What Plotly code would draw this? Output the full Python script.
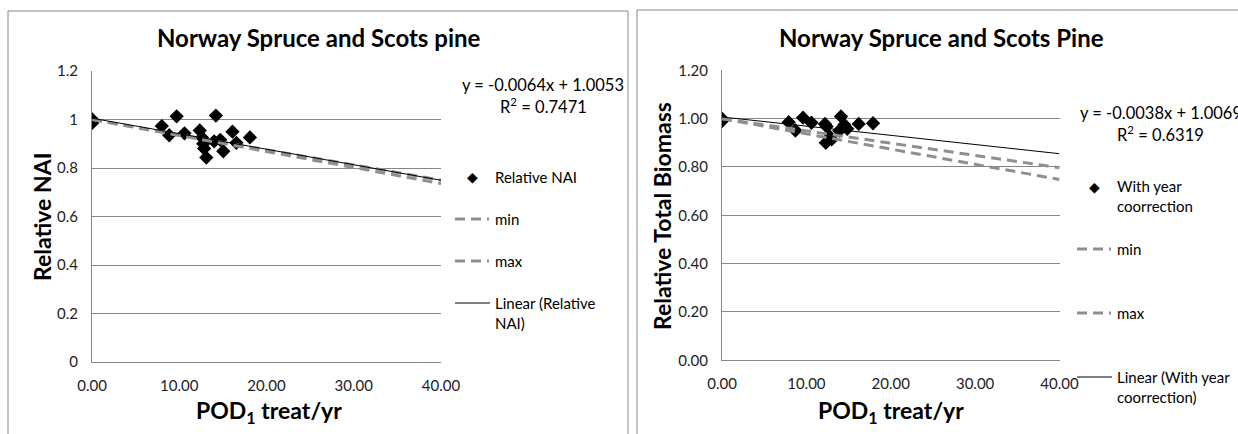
import plotly.graph_objects as go

W, H = 1238, 434

# ---------------- data ----------------
nai_x = [0, 0, 0, 0, 8.0, 9.7, 8.85, 10.6, 12.35, 12.6, 12.75, 12.85, 13.1,
         14.2, 14.0, 14.7, 15.05, 16.1, 16.55, 18.1]
nai_y = [1.0, 1.0, 0.99, 0.985, 0.973, 1.013, 0.935, 0.943, 0.955, 0.926, 0.90,
         0.88, 0.843, 1.016, 0.91, 0.916, 0.869, 0.95, 0.904, 0.926]
nai_slope, nai_intercept = -0.0064, 1.0053
nai_min_x, nai_min_y = [0, 40], [1.0, 0.75]
nai_max_x, nai_max_y = [0, 40], [1.0, 0.736]

bio_x = [0, 0, 0, 7.9, 8.7, 9.6, 10.6, 12.2, 12.4, 12.3, 12.8, 13.0, 13.9,
         14.1, 14.5, 14.85, 16.2, 17.9]
bio_y = [1.0, 0.995, 0.99, 0.985, 0.951, 1.004, 0.983, 0.978, 0.967, 0.90,
         0.925, 0.914, 0.95, 1.009, 0.975, 0.958, 0.978, 0.981]
bio_slope, bio_intercept = -0.0038, 1.0069
bio_min_x, bio_min_y = [0, 40], [1.0, 0.797]
bio_max_x, bio_max_y = [0, 40], [1.0, 0.748]

trend_x = [0, 40]
x_ticks = [0, 10, 20, 30, 40]

# ---------------- styles ----------------
FONT = "Lato"
GRID = "#868686"
DASHCOL = "#8f8f8f"
DASH = "10px,6px"
LEGSIZE = 15


def px(x):
    return x / W


def py(y):
    return 1 - y / H


fig = go.Figure()

# left panel traces
fig.add_trace(go.Scatter(x=nai_x, y=nai_y, mode="markers", xaxis="x", yaxis="y",
                         marker=dict(symbol="diamond", size=11, color="black"),
                         showlegend=False))
fig.add_trace(go.Scatter(x=nai_min_x, y=nai_min_y, mode="lines", xaxis="x", yaxis="y",
                         line=dict(color=DASHCOL, width=3, dash=DASH), showlegend=False))
fig.add_trace(go.Scatter(x=nai_max_x, y=nai_max_y, mode="lines", xaxis="x", yaxis="y",
                         line=dict(color=DASHCOL, width=3, dash=DASH), showlegend=False))
fig.add_trace(go.Scatter(x=trend_x, y=[nai_intercept + nai_slope * v for v in trend_x],
                         mode="lines", xaxis="x", yaxis="y",
                         line=dict(color="black", width=1), showlegend=False))

# right panel traces
fig.add_trace(go.Scatter(x=bio_x, y=bio_y, mode="markers", xaxis="x2", yaxis="y2",
                         marker=dict(symbol="diamond", size=11, color="black"),
                         showlegend=False))
fig.add_trace(go.Scatter(x=bio_min_x, y=bio_min_y, mode="lines", xaxis="x2", yaxis="y2",
                         line=dict(color=DASHCOL, width=3, dash=DASH), showlegend=False))
fig.add_trace(go.Scatter(x=bio_max_x, y=bio_max_y, mode="lines", xaxis="x2", yaxis="y2",
                         line=dict(color=DASHCOL, width=3, dash=DASH), showlegend=False))
fig.add_trace(go.Scatter(x=trend_x, y=[bio_intercept + bio_slope * v for v in trend_x],
                         mode="lines", xaxis="x2", yaxis="y2",
                         line=dict(color="black", width=1), showlegend=False))

axis_common = dict(showline=True, linecolor=GRID, linewidth=1, ticks="",
                   tickfont=dict(family=FONT, size=15, color="#222"), zeroline=False,
                   ticklabelstandoff=10, automargin=False)

fig.update_layout(
    width=W, height=H, margin=dict(l=0, r=0, t=0, b=0, autoexpand=False),
    paper_bgcolor="white", plot_bgcolor="white",
    font=dict(family=FONT, color="black"),
    xaxis=dict(domain=[px(92), px(441)], range=[0, 40], tickvals=x_ticks,
               tickformat=".2f", showgrid=False, anchor="y", **axis_common),
    yaxis=dict(domain=[py(362), py(71)], range=[0, 1.2], dtick=0.2,
               showgrid=True, gridcolor=GRID, anchor="x", **axis_common),
    xaxis2=dict(domain=[px(722), px(1059.5)], range=[0, 40], tickvals=x_ticks,
                tickformat=".2f", showgrid=False, anchor="y2", **axis_common),
    yaxis2=dict(domain=[py(360.3), py(70.3)], range=[0, 1.2], dtick=0.2,
                tickformat=".2f", showgrid=True, gridcolor=GRID, anchor="x2",
                **axis_common),
)

shapes = []
annotations = []

# panel borders
shapes.append(dict(type="rect", xref="paper", yref="paper", x0=px(8), x1=px(628),
                   y0=py(445), y1=py(11), line=dict(color="#878787", width=1)))
shapes.append(dict(type="rect", xref="paper", yref="paper", x0=px(637), x1=px(1250),
                   y0=py(445), y1=py(10), line=dict(color="#878787", width=1)))


def ann(text, x, y, size=13, bold=False, xanchor="center", angle=0, align="center"):
    annotations.append(dict(text=("<b>%s</b>" % text) if bold else text,
                            x=px(x), y=py(y), xref="paper", yref="paper",
                            xanchor=xanchor, yanchor="middle", showarrow=False,
                            textangle=angle, align=align,
                            font=dict(family=FONT, size=size, color="black")))


# titles
ann("Norway Spruce and Scots pine", 319, 38, size=24, bold=True)
ann("Norway Spruce and Scots Pine", 941, 37, size=24, bold=True)
# axis titles
ann("Relative NAI", 42, 217, size=23, bold=True, angle=-90)
ann("POD<sub>1</sub> treat/yr", 269, 411, size=23, bold=True)
ann("Relative Total Biomass", 662, 216, size=23, bold=True, angle=-90)
ann("POD<sub>1</sub> treat/yr", 891, 411, size=23, bold=True)

# equations
ann("y = -0.0064x + 1.0053", 543, 85, size=16.5)
ann("R<sup>2</sup> = 0.7471", 543, 106, size=16.5)
ann("y = -0.0038x + 1.0069", 1078, 113, size=16.5, xanchor="left")
ann("R<sup>2</sup> = 0.6319", 1160, 134, size=16.5)


# legends
def leg_marker(x, y):
    ann("\u25C6", x, y, size=14)


def leg_dash(x0, x1, y):
    shapes.append(dict(type="line", xref="paper", yref="paper", x0=px(x0), x1=px(x1),
                       y0=py(y), y1=py(y),
                       line=dict(color=DASHCOL, width=3, dash=DASH)))


def leg_line(x0, x1, y):
    shapes.append(dict(type="line", xref="paper", yref="paper", x0=px(x0), x1=px(x1),
                       y0=py(y), y1=py(y), line=dict(color="black", width=1)))


leg_marker(472, 177)
ann("Relative NAI", 493, 177, size=LEGSIZE, xanchor="left")
leg_dash(455, 489, 219)
ann("min", 493, 219, size=LEGSIZE, xanchor="left")
leg_dash(455, 489, 261)
ann("max", 493, 261, size=LEGSIZE, xanchor="left")
leg_line(455, 490, 303)
ann("Linear (Relative<br>NAI)", 493, 313, size=LEGSIZE, xanchor="left", align="left")

leg_marker(1094, 186)
ann("With year<br>coorrection", 1115, 196, size=LEGSIZE, xanchor="left", align="left")
leg_dash(1077, 1111, 249)
ann("min", 1115, 249, size=LEGSIZE, xanchor="left")
leg_dash(1077, 1111, 313)
ann("max", 1115, 313, size=LEGSIZE, xanchor="left")
leg_line(1077, 1112, 377)
ann("Linear (With year<br>coorrection)", 1115, 387, size=LEGSIZE, xanchor="left", align="left")

fig.update_layout(shapes=shapes, annotations=annotations)

fig.write_html("out.html")
